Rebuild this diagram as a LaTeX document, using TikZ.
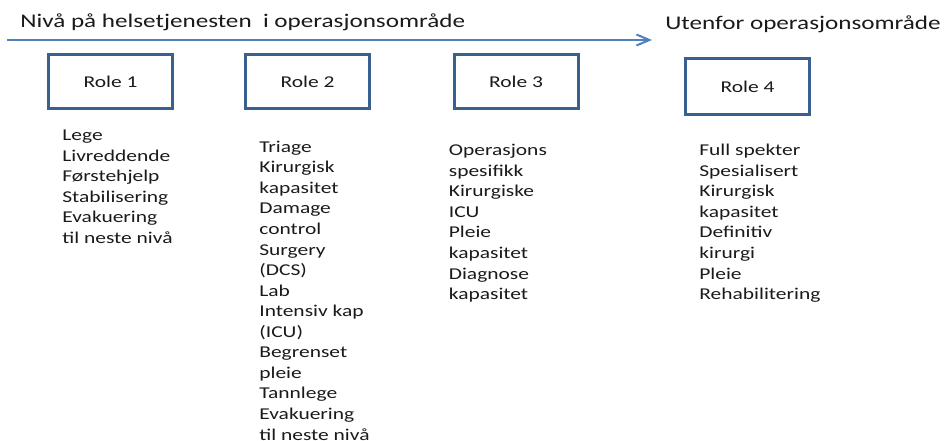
\documentclass[tikz,border=0pt]{standalone}
\usepackage{fontspec}
\setmainfont{Carlito}[FakeStretch=1.3]
\usepackage{tikz}
\usetikzlibrary{arrows.meta,positioning}
\definecolor{cLine}{HTML}{4F81BD}
\definecolor{cBox}{HTML}{3A6090}
\definecolor{cText}{HTML}{1A1A1A}
\tikzset{
  rolebox/.style={draw=cBox, line width=0.6mm, fill=white, minimum width=24.8mm,
                  minimum height=10.8mm, inner sep=0pt, text=cText,
                  font=\fontsize{9.4}{11.7}\selectfont},
  lst/.style={inner sep=0pt, align=left, text=cText, font=\fontsize{9.4}{11.7}\selectfont},
  hdr/.style={inner sep=0pt, text=cText, font=\fontsize{11}{13}\selectfont},
  levelarr/.style={-{Straight Barb[length=2.6mm,width=2.2mm]}, line width=0.4mm, cLine}
}

\begin{document}
\begin{tikzpicture}[x=0.2mm, y=0.2mm]
\useasboundingbox (0,0) rectangle (945,-441);
% Header: level of care
\node[hdr, anchor=west] (nivaa) at (20,-22) {Nivå på helsetjenesten\ \ i operasjonsområde};
\node[hdr, anchor=west] (utenfor) at (665,-24) {Utenfor operasjonsområde};
\coordinate (arrS) at (7,-40);
\coordinate (arrE) at (652,-40);
\draw[levelarr] (arrS) -- (arrE);
% Role boxes
\node[rolebox] (role1) at (110.5,-81.5) {Role 1};
\node[rolebox] (role2) at (307.5,-81.5) {Role 2};
\node[rolebox] (role3) at (516,-81.5) {Role 3};
\node[rolebox, minimum height=11.2mm] (role4) at (747.5,-86.5) {Role 4};
% Capabilities per role
\node[lst, below=3.2mm of role1.south west, anchor=north west, xshift=3mm] (cap1)
  {\strut Lege\\Livreddende\\Førstehjelp\\Stabilisering\\Evakuering\\til neste nivå};
\node[lst, below=5.5mm of role2.south west, anchor=north west, xshift=3mm] (cap2)
  {\strut Triage\\Kirurgisk\\kapasitet\\Damage\\control\\Surgery\\(DCS)\\Lab\\Intensiv kap\\(ICU)\\Begrenset\\pleie\\Tannlege\\Evakuering\\til neste nivå};
\node[lst, below=6.2mm of role3.south west, anchor=north west, xshift=-0.8mm] (cap3)
  {\strut Operasjons\\spesifikk\\Kirurgiske\\ICU\\Pleie\\kapasitet\\Diagnose\\kapasitet};
\node[lst, below=5mm of role4.south west, anchor=north west, xshift=3mm] (cap4)
  {\strut Full spekter\\Spesialisert\\Kirurgisk\\kapasitet\\Definitiv\\kirurgi\\Pleie\\Rehabilitering};
\end{tikzpicture}
\end{document}
